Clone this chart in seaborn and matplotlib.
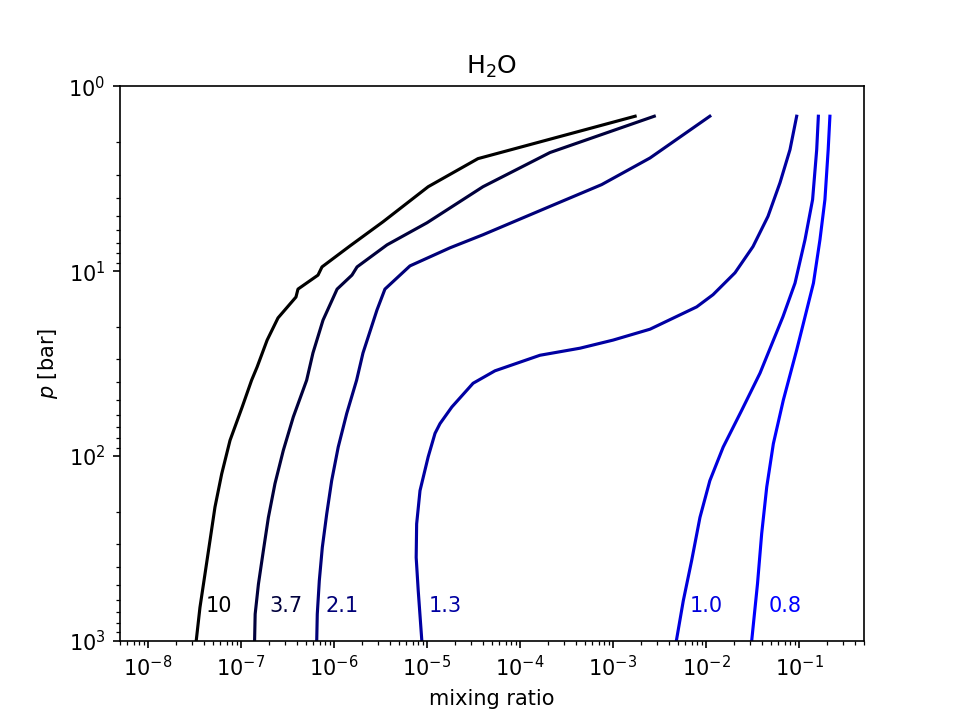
import matplotlib
matplotlib.use("Agg")
import matplotlib.pyplot as plt
import seaborn as sns
import pandas as pd

# Curve labels (shown at the bottom of each curve)
labels = ["10", "3.7", "2.1", "1.3", "1.0", "0.8"]
colors = ["#000000", "#00003c", "#000078", "#0000a2", "#0000dc", "#0000ff"]

# pressure [bar] and mixing ratio for each curve
p_10 = [1.45, 2.46, 3.49, 5.40, 7.29, 9.48, 10.5, 12.5, 13.8, 17.9, 23.6, 33.0, 38.9, 54.3, 82.3, 125, 189, 287,
        435, 660, 1000]
x_10 = [1.73e-3, 3.53e-5, 1.03e-5, 3.37e-6, 1.49e-6, 7.43e-7, 6.73e-7, 4.10e-7, 3.90e-7, 2.50e-7, 1.91e-7, 1.49e-7,
        1.30e-7, 1.03e-7, 7.62e-8, 6.20e-8, 5.25e-8, 4.64e-8, 4.10e-8, 3.62e-8, 3.30e-8]

p_37 = [1.45, 2.28, 3.49, 5.47, 7.20, 9.48, 10.5, 12.5, 18.4, 27.7, 38.9, 61.5, 93.3, 141, 215, 325, 493, 717, 1000]
x_37 = [2.78e-3, 2.10e-4, 4.00e-5, 1.00e-5, 3.72e-6, 1.77e-6, 1.56e-6, 1.08e-6, 7.62e-7, 5.94e-7, 5.08e-7, 3.65e-7,
        2.85e-7, 2.32e-7, 1.97e-7, 1.74e-7, 1.54e-7, 1.42e-7, 1.40e-7]

p_21 = [1.45, 2.44, 3.40, 4.46, 6.35, 7.47, 9.36, 12.5, 16.2, 27.7, 38.9, 58.9, 89.5, 136, 206, 312, 473, 717, 1000]
x_21 = [1.10e-2, 2.50e-3, 7.55e-4, 2.10e-4, 4.00e-5, 1.77e-5, 6.56e-6, 3.53e-6, 2.90e-6, 2.05e-6, 1.75e-6, 1.37e-6,
        1.11e-6, 9.44e-7, 8.35e-7, 7.49e-7, 6.95e-7, 6.61e-7, 6.52e-7]

p_13 = [1.45, 2.20, 3.32, 5.05, 7.36, 10.2, 13.4, 15.6, 20.6, 23.6, 26.1, 28.5, 34.6, 40.4, 54.3, 66.8, 75.4, 101,
        154, 233, 354, 536, 1000]
x_13 = [9.44e-2, 8.00e-2, 6.25e-2, 4.64e-2, 3.20e-2, 2.05e-2, 1.19e-2, 7.94e-3, 2.50e-3, 1.00e-3, 4.42e-4, 1.64e-4,
        5.38e-5, 3.13e-5, 1.85e-5, 1.38e-5, 1.22e-5, 1.03e-5, 8.41e-6, 7.74e-6, 7.65e-6, 8.05e-6, 8.80e-6]

p_10b = [1.45, 2.20, 4.10, 6.76, 11.6, 17.6, 35.6, 56.6, 89.5, 136, 215, 368, 607, 1000]
x_10b = [0.1615, 0.155, 0.140, 0.116, 9.06e-2, 6.73e-2, 3.81e-2, 2.42e-2, 1.53e-2, 1.10e-2, 8.61e-3, 7.01e-3,
         5.70e-3, 4.80e-3]

p_08 = [1.45, 2.20, 4.10, 6.76, 11.6, 20.8, 26.7, 49.9, 85.8, 147, 263, 491, 1000]
x_08 = [0.215, 0.206, 0.190, 0.168, 0.143, 0.107, 9.44e-2, 6.78e-2, 5.30e-2, 4.50e-2, 3.97e-2, 3.58e-2, 3.10e-2]

curves_p = [p_10, p_37, p_21, p_13, p_10b, p_08]
curves_x = [x_10, x_37, x_21, x_13, x_10b, x_08]

# label anchor (mixing ratio, pressure)
label_x = [4.2e-8, 2.0e-7, 8.2e-7, 1.03e-5, 6.7e-3, 4.7e-2]
label_p = 650

fig, ax = plt.subplots(figsize=(6.4, 4.8), dpi=150)

for lab, col, ps, xs in zip(labels, colors, curves_p, curves_x):
    df = pd.DataFrame({"x": xs, "p": ps})
    sns.lineplot(data=df, x="x", y="p", sort=False, estimator=None, color=col, lw=1.5, ax=ax)

for lab, col, lx in zip(labels, colors, label_x):
    ax.text(lx, label_p, lab, color=col, ha="left", va="center", fontsize=10)

ax.set_xscale("log")
ax.set_yscale("log")
ax.set_xlim(5e-9, 0.5)
ax.set_ylim(1e3, 1e0)
ax.set_xlabel("mixing ratio")
ax.set_ylabel("$p$ [bar]")
ax.set_title("H$_2$O")

fig.savefig("out.png", dpi=150)
